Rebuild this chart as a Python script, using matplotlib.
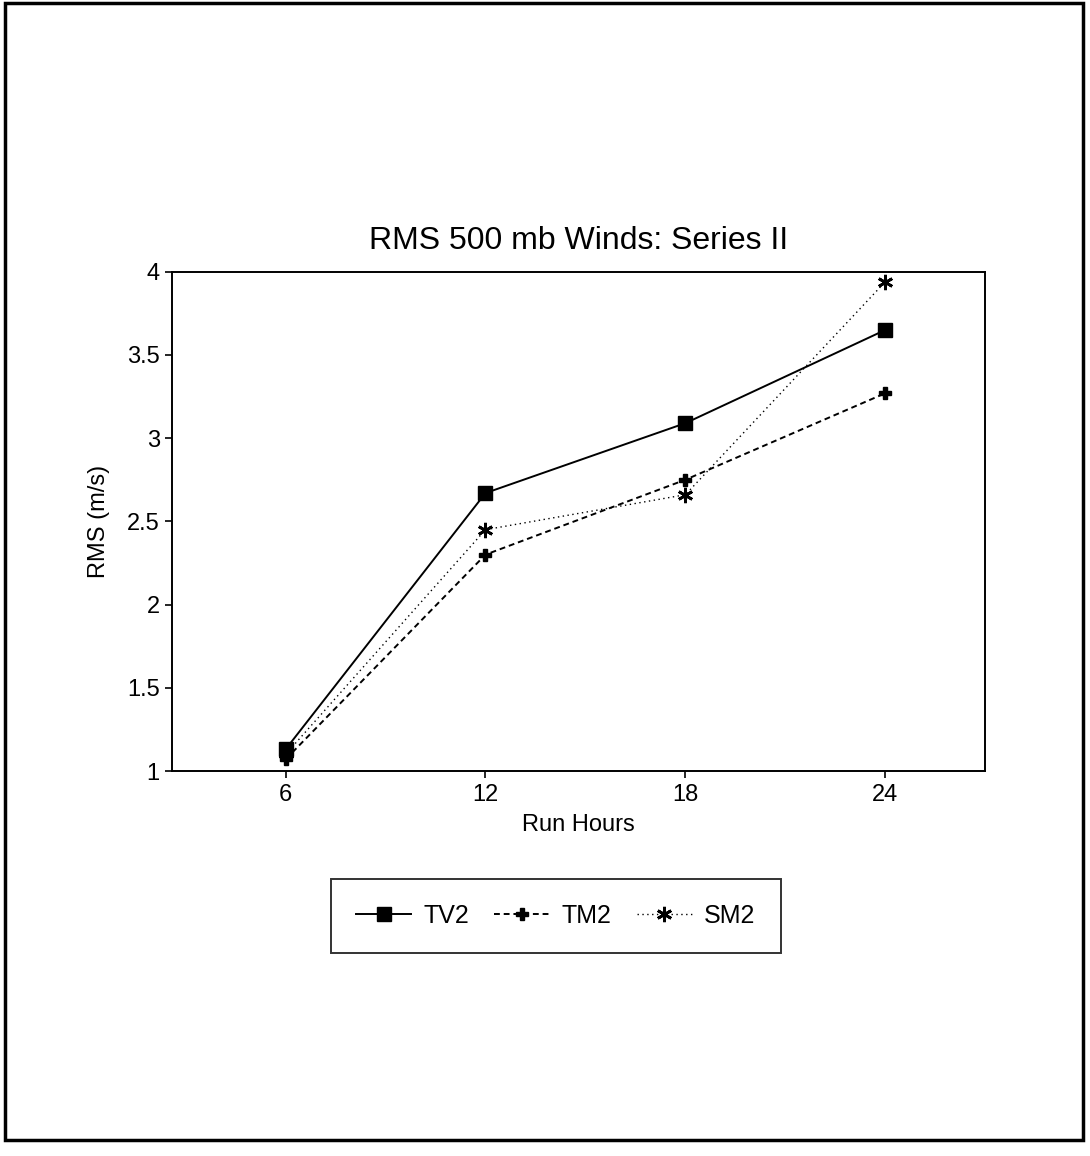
import matplotlib
matplotlib.use("Agg")
import matplotlib.pyplot as plt
from matplotlib.patches import Rectangle

plt.rcParams['font.family'] = ['Liberation Sans', 'DejaVu Sans']

# --- Data ---
hours = [6, 12, 18, 24]
tv2 = [1.13, 2.67, 3.09, 3.65]
tm2 = [1.07, 2.30, 2.75, 3.27]
sm2 = [1.10, 2.45, 2.66, 3.94]
yticks = [1, 1.5, 2, 2.5, 3, 3.5, 4]
ytick_labels = ['1', '1.5', '2', '2.5', '3', '3.5', '4']

fig = plt.figure(figsize=(10.9, 11.56), dpi=100)
ax = fig.add_axes([0.158, 0.333, 0.746, 0.432])

ax.plot(hours, tv2, color='black', lw=1.4, ls='-', marker='s', ms=10,
        label='TV2')
ax.plot(hours, tm2, color='black', lw=1.4, ls=(0, (3, 2)), marker='P', ms=9,
        label='TM2')
ax.plot(hours, sm2, color='black', lw=1.0, ls=(0, (1, 2.5)),
        marker=(6, 2, 0), ms=11, mew=2, label='SM2')

ax.set_xlim(2.6, 27)
ax.set_ylim(1, 4)
ax.set_xticks(hours)
ax.set_yticks(yticks)
ax.set_yticklabels(ytick_labels)
ax.tick_params(direction='out', length=5, width=1.2, labelsize=17, pad=4)
for s in ax.spines.values():
    s.set_linewidth(1.4)

ax.set_title('RMS 500 mb Winds: Series II', fontsize=23, pad=16)
ax.set_xlabel('Run Hours', fontsize=17, labelpad=6)
ax.set_ylabel('RMS (m/s)', fontsize=17, labelpad=12)

leg = fig.legend(loc='center', bbox_to_anchor=(0.51, 0.208), ncol=3,
                 fontsize=18, frameon=True, fancybox=False, edgecolor='black',
                 handlelength=2.2, handletextpad=0.5, columnspacing=1.0,
                 borderpad=1.0, borderaxespad=0)
leg.get_frame().set_linewidth(1.4)

# page frame around the figure
fig.patches.append(Rectangle((5 / 1090, 16 / 1156), 1078 / 1090, 1137 / 1156,
                             transform=fig.transFigure, fill=False,
                             edgecolor='black', lw=2.5))

fig.savefig('out.png', dpi=100)
